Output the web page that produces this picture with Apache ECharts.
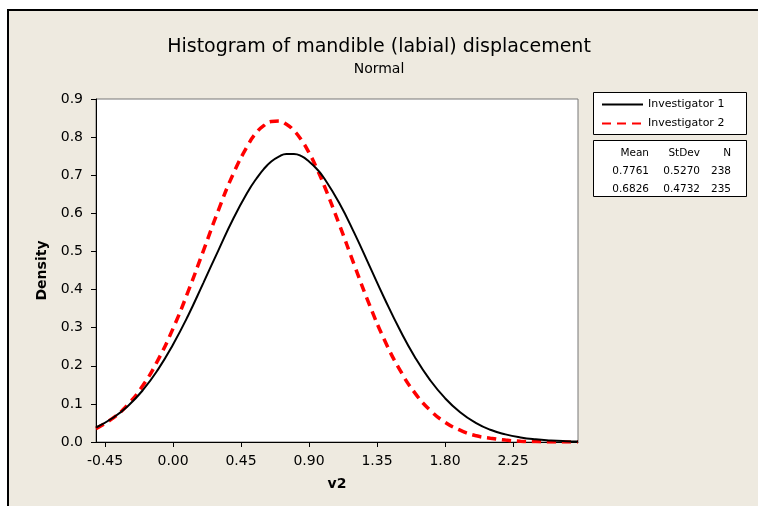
<!DOCTYPE html>
<html>
<head>
<meta charset="utf-8">
<script src="https://cdn.jsdelivr.net/npm/echarts@6/dist/echarts.min.js"></script>
<style>
    html, body { margin: 0; padding: 0; background: #fff; }
    #frame { position: absolute; left: 7px; top: 9px; width: 760px; height: 510px;
             background: #eeeae0; border-left: 2px solid #000; border-top: 2px solid #000; }
    #chart { position: absolute; left: 0; top: 0; width: 758px; height: 506px; }
</style>
</head>
<body>
<div id="frame"></div>
<div id="chart"></div>
<script>
//x 位置 (v2)
const xs = [-0.51, -0.4, -0.3, -0.2, -0.1, 0.0, 0.1, 0.2, 0.3, 0.4, 0.5, 0.55, 0.6, 0.65, 0.7,
    0.75, 0.8, 0.85, 0.9, 0.95, 1.0, 1.1, 1.2, 1.3, 1.4, 1.5, 1.6, 1.7, 1.8, 1.9, 2.0, 2.1, 2.2,
    2.3, 2.4, 2.5, 2.6, 2.68];
//Investigator 1 的密度
const inv1 = [0.038, 0.063, 0.094, 0.136, 0.190, 0.256, 0.332, 0.417, 0.503, 0.587, 0.660, 0.690,
    0.716, 0.736, 0.749, 0.756, 0.756, 0.750, 0.736, 0.717, 0.692, 0.627, 0.548, 0.462, 0.376,
    0.295, 0.223, 0.163, 0.115, 0.078, 0.051, 0.032, 0.020, 0.012, 0.007, 0.004, 0.002, 0.001];
//Investigator 2 的密度
const inv2 = [0.035, 0.062, 0.098, 0.148, 0.215, 0.298, 0.395, 0.501, 0.608, 0.705, 0.782, 0.811,
    0.830, 0.841, 0.842, 0.834, 0.817, 0.792, 0.759, 0.719, 0.673, 0.571, 0.464, 0.360, 0.267,
    0.190, 0.129, 0.084, 0.052, 0.031, 0.017, 0.010, 0.005, 0.002, 0.001, 0.000, 0.000, 0.000];
//刻度
const xTicks = [-0.45, 0.00, 0.45, 0.90, 1.35, 1.80, 2.25];
//圖例名稱
const names = ['Investigator 1', 'Investigator 2'];
//統計表
const statHead = ['Mean', 'StDev', 'N'];
const statRows = [['0.7761', '0.5270', '238'], ['0.6826', '0.4732', '235']];

const font = 'DejaVu Sans';
const myChart = echarts.init(document.getElementById('chart'));

//統計表文字
const colRight = [649, 700, 731];
const rowY = [153, 171, 189];
const tableText = [];
[statHead].concat(statRows).forEach((row, r) => {
    row.forEach((t, c) => {
        tableText.push({
            type: 'text', x: colRight[c], y: rowY[r], silent: true,
            style: { text: t, fill: '#000', font: '10.5px ' + font, align: 'right', verticalAlign: 'middle' }
        });
    });
});

myChart.setOption({
    animation: false,
    title: {
        text: 'Histogram of mandible (labial) displacement',
        subtext: 'Normal',
        left: 'center',
        top: 33,
        itemGap: 5,
        textStyle: { fontFamily: font, fontSize: 19, fontWeight: 'normal', color: '#000' },
        subtextStyle: { fontFamily: font, fontSize: 14, color: '#000' }
    },
    grid: {
        left: 96, right: 180, top: 99, bottom: 64,
        show: true, backgroundColor: '#fff', borderColor: '#777', borderWidth: 1
    },
    legend: {
        orient: 'vertical',
        left: 596, top: 94,
        itemWidth: 41, itemHeight: 12, itemGap: 8,
        //隱藏圖例中的圓點，只留線
        itemStyle: { opacity: 0 },
        textStyle: { fontFamily: font, fontSize: 11, color: '#000' },
        data: names
    },
    xAxis: {
        type: 'value', min: -0.51, max: 2.68,
        name: 'v2', nameLocation: 'middle', nameGap: 35,
        nameTextStyle: { fontFamily: font, fontSize: 14, fontWeight: 'bold', color: '#000' },
        axisLine: { onZero: false, lineStyle: { color: '#000' } },
        axisTick: { customValues: xTicks, length: 5, lineStyle: { color: '#000' } },
        axisLabel: {
            customValues: xTicks, fontFamily: font, fontSize: 14, color: '#000', margin: 12,
            formatter: v => v.toFixed(2)
        },
        splitLine: { show: false }
    },
    yAxis: {
        type: 'value', min: 0, max: 0.9, interval: 0.1,
        name: 'Density', nameLocation: 'middle', nameGap: 46,
        nameTextStyle: { fontFamily: font, fontSize: 14, fontWeight: 'bold', color: '#000' },
        axisLine: { show: true, onZero: false, lineStyle: { color: '#000' } },
        axisTick: { show: true, length: 5, lineStyle: { color: '#000' } },
        axisLabel: { fontFamily: font, fontSize: 14, color: '#000', margin: 13, formatter: v => v.toFixed(1) },
        splitLine: { show: false }
    },
    graphic: [
        { type: 'rect', shape: { x: 593.5, y: 92.5, width: 153, height: 42 }, silent: true,
          style: { fill: '#fff', stroke: '#000', lineWidth: 1 }, z: -1 },
        { type: 'rect', shape: { x: 593.5, y: 140.5, width: 153, height: 56 }, silent: true,
          style: { fill: '#fff', stroke: '#000', lineWidth: 1 }, z: -1 }
    ].concat(tableText),
    series: [
        {
            name: names[0], type: 'line', smooth: true, symbol: 'none', z: 3,
            data: xs.map((x, i) => [x, inv1[i]]),
            itemStyle: { color: '#000' },
            lineStyle: { color: '#000', width: 2 }
        },
        {
            name: names[1], type: 'line', smooth: true, symbol: 'none', z: 2,
            data: xs.map((x, i) => [x, inv2[i]]),
            itemStyle: { color: '#ff0000' },
            lineStyle: { color: '#ff0000', width: 3.5, type: [9, 6] }
        }
    ]
});
</script>
</body>
</html>
